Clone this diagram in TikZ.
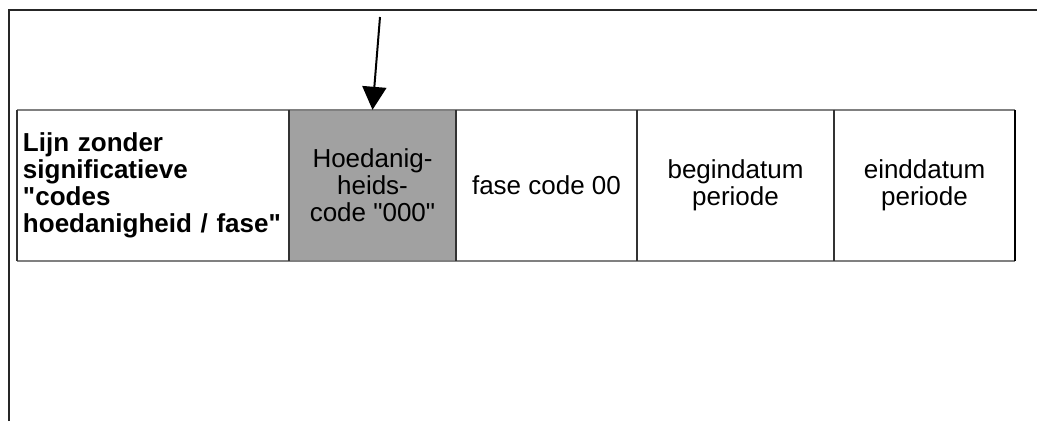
\documentclass[tikz,border=0pt]{standalone}
\usepackage{fontspec}
\setmainfont{Liberation Sans}[Ligatures=TeXOff]
\usetikzlibrary{arrows.meta}

\begin{document}
\begin{tikzpicture}[x=1pt, y=-1pt]
 \tikzstyle{cell}=[rectangle, minimum height=151pt, inner sep=0pt, align=center, font=\fontsize{26}{27}\selectfont]
 \tikzstyle{shaded}=[cell, fill=black!37]
 \tikzstyle{hline}=[draw=black!50, line width=1.5pt]
 \tikzstyle{vline}=[draw=black!80, line width=1.5pt]
 \tikzstyle{frame}=[draw=black!85, line width=1.8pt]
 \tikzstyle{arr}=[-{Triangle[length=23pt, width=24pt]}, line width=2pt]

 \useasboundingbox (0,0) rectangle (1037,421);

 % Frame
 \draw [frame] (9,421) -- (9,10) -- (1037,10);

 % Cells
 \node (nlijn) at (153,185.5) [cell, minimum width=272pt, text width=260pt, align=left, font=\fontsize{26}{27}\selectfont\bfseries] {Lijn zonder\\significatieve\\"codes\\hoedanigheid / fase"};
 \node (nhoed) at (372.5,185.5) [shaded, minimum width=167pt] {Hoedanig-\\heids-\\code "000"};
 \node (nfase) at (546.5,185.5) [cell, minimum width=181pt] {fase code 00};
 \node (nbegin) at (735.5,185.5) [cell, minimum width=197pt] {begindatum\\periode};
 \node (neind) at (924.5,185.5) [cell, minimum width=181pt] {einddatum\\periode};

 % Borders
 \draw [hline] (nlijn.north west) -- (neind.north east);
 \draw [hline] (nlijn.south west) -- (neind.south east);
 \draw [vline] (nlijn.north west) -- (nlijn.south west);
 \draw [vline] (nhoed.north west) -- (nhoed.south west);
 \draw [vline] (nfase.north west) -- (nfase.south west);
 \draw [vline] (nbegin.north west) -- (nbegin.south west);
 \draw [vline] (neind.north west) -- (neind.south west);
 \draw [vline, draw=black] (neind.north east) -- (neind.south east);

 % Pointer
 \coordinate (ntail) at (380,17);
 \draw [arr] (ntail) -- (nhoed.north);

\end{tikzpicture}
\end{document}
